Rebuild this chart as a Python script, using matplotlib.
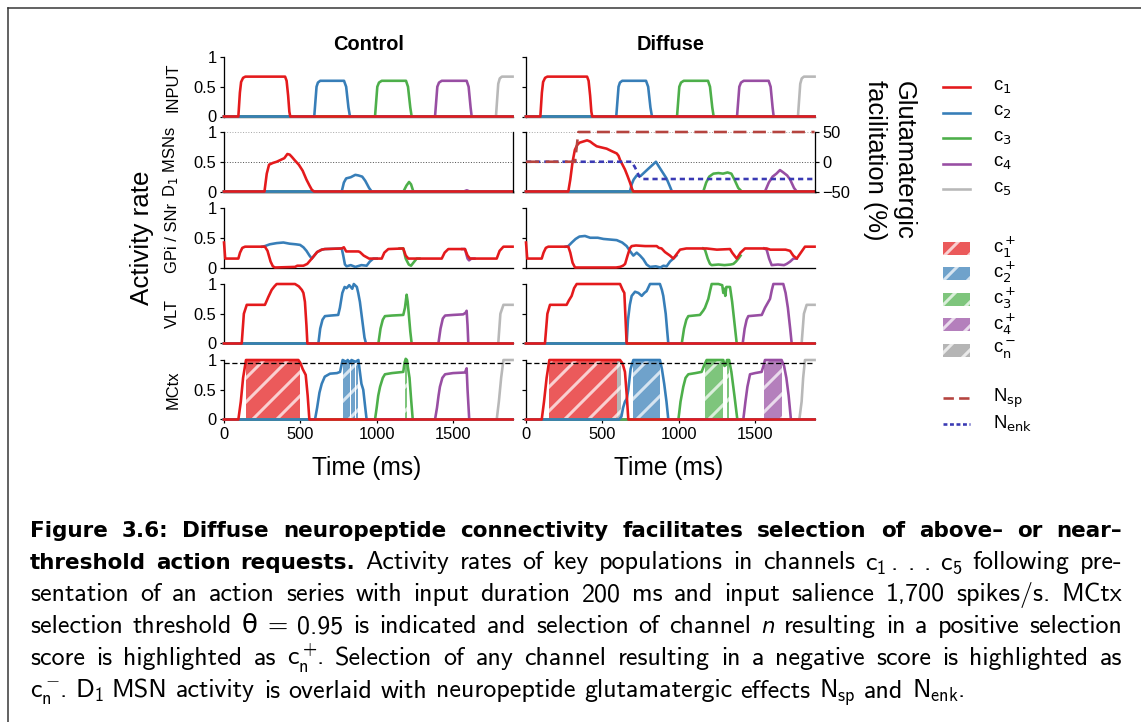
import numpy as np
import matplotlib
matplotlib.use('Agg')
import matplotlib.pyplot as plt
from matplotlib.patches import Rectangle

plt.rcParams['font.family'] = ['Liberation Sans', 'DejaVu Sans']
plt.rcParams['mathtext.rm'] = 'cmss10'
plt.rcParams['mathtext.it'] = 'DejaVu Sans:italic'
plt.rcParams['hatch.linewidth'] = 3.0

DPI = 72
W, H = 1141, 722
T_END = 1890

channels = ['c1', 'c2', 'c3', 'c4', 'c5']
colours = {'c1': '#e41a1c', 'c2': '#377eb8', 'c3': '#4daf4a',
           'c4': '#984ea3', 'c5': '#b8b8b8'}
neg_colour = '#999999'
nsp_colour = '#b5443f'
nenk_colour = '#3a3ab4'
row_labels = ['INPUT', 'D$_1$ MSNs', 'GPi / SNr', 'VLT', 'MCtx']

# ---- activity traces, (time ms, rate) breakpoints ----
input_rates = {
    'c1': [(0, 0), (94, 0), (104, 0.4), (112, 0.58), (125, 0.65), (140, 0.67), (400, 0.67),
           (410, 0.6), (420, 0.35), (428, 0.08), (434, 0), (T_END, 0)],
    'c2': [(0, 0), (591, 0), (606, 0.5), (615, 0.57), (630, 0.6), (786, 0.6), (800, 0.5),
           (815, 0.15), (825, 0), (T_END, 0)],
    'c3': [(0, 0), (989, 0), (1004, 0.5), (1015, 0.57), (1033, 0.6), (1192, 0.6), (1205, 0.5),
           (1220, 0.15), (1229, 0), (T_END, 0)],
    'c4': [(0, 0), (1382, 0), (1397, 0.5), (1408, 0.57), (1426, 0.6), (1589, 0.6), (1602, 0.5),
           (1615, 0.15), (1622, 0), (T_END, 0)],
    'c5': [(0, 0), (1781, 0), (1796, 0.55), (1806, 0.64), (1820, 0.67), (T_END, 0.67)],
}

ctrl_d1 = {
    'c1': [(0, 0), (265, 0), (280, 0.3), (295, 0.45), (320, 0.48), (345, 0.5), (370, 0.53),
           (395, 0.56), (415, 0.63), (430, 0.62), (445, 0.58), (465, 0.52), (490, 0.45),
           (515, 0.35), (540, 0.2), (560, 0.1), (575, 0.03), (590, 0), (T_END, 0)],
    'c2': [(0, 0), (771, 0), (785, 0.15), (800, 0.22), (830, 0.24), (860, 0.28), (880, 0.27),
           (905, 0.25), (925, 0.18), (950, 0.06), (967, 0), (T_END, 0)],
    'c3': [(0, 0), (1175, 0), (1195, 0.1), (1212, 0.16), (1225, 0.12), (1240, 0), (T_END, 0)],
    'c4': [(0, 0), (1570, 0), (1590, 0.02), (1610, 0), (T_END, 0)],
    'c5': [(0, 0), (T_END, 0)],
}
diff_d1 = {
    'c1': [(0, 0), (277, 0), (290, 0.2), (305, 0.5), (320, 0.7), (335, 0.78), (350, 0.82),
           (375, 0.84), (400, 0.86), (420, 0.84), (440, 0.8), (463, 0.76), (495, 0.74),
           (528, 0.72), (560, 0.68), (594, 0.64), (606, 0.6), (616, 0.53), (632, 0.45),
           (648, 0.37), (665, 0.26), (681, 0.15), (695, 0.04), (703, 0), (T_END, 0)],
    'c2': [(0, 0), (681, 0), (692, 0.12), (705, 0.2), (725, 0.27), (750, 0.26), (775, 0.32),
           (800, 0.38), (830, 0.45), (851, 0.5), (870, 0.42), (895, 0.32), (920, 0.22),
           (940, 0.1), (956, 0), (T_END, 0)],
    'c3': [(0, 0), (1161, 0), (1180, 0.15), (1200, 0.25), (1227, 0.3), (1260, 0.31),
           (1290, 0.3), (1320, 0.32), (1345, 0.3), (1365, 0.2), (1390, 0.06), (1413, 0), (T_END, 0)],
    'c4': [(0, 0), (1565, 0), (1590, 0.15), (1615, 0.25), (1640, 0.3), (1663, 0.36),
           (1685, 0.32), (1710, 0.27), (1730, 0.2), (1755, 0.06), (1773, 0), (T_END, 0)],
    'c5': [(0, 0), (T_END, 0)],
}

# glutamatergic facilitation (%) in the diffuse case
nsp_t = [0, 321, 343, T_END]
nsp_v = [0, 0, 50, 50]
nenk_t = [0, 692, 715, 740, 758, T_END]
nenk_v = [0, 0, -10, -24, -29, -29]

ctrl_gpi = {
    'c1': [(0, 0.42), (8, 0.15), (94, 0.15), (105, 0.25), (120, 0.33), (138, 0.35), (268, 0.35),
           (285, 0.28), (305, 0.1), (320, 0.02), (334, 0), (465, 0.01), (480, 0.03), (520, 0.03),
           (545, 0.06), (575, 0.15), (610, 0.26), (640, 0.3), (660, 0.31), (771, 0.32),
           (785, 0.34), (800, 0.27), (880, 0.27), (890, 0.26), (915, 0.2), (950, 0.15),
           (1033, 0.15), (1050, 0.25), (1076, 0.31), (1174, 0.32), (1190, 0.2), (1207, 0.15),
           (1426, 0.15), (1445, 0.25), (1469, 0.31), (1578, 0.31), (1595, 0.2), (1611, 0.15),
           (1786, 0.15), (1805, 0.28), (1830, 0.35), (T_END, 0.35)],
    'c2': [(250, 0.35), (268, 0.36), (300, 0.39), (345, 0.41), (389, 0.42), (430, 0.4),
           (470, 0.39), (498, 0.38), (520, 0.34), (540, 0.28), (560, 0.2), (575, 0.15),
           (610, 0.26), (640, 0.3), (660, 0.31), (771, 0.32), (781, 0.2), (792, 0.05),
           (803, 0.02), (830, 0.04), (860, 0.01), (900, 0.04), (934, 0.03), (955, 0.1),
           (978, 0.15), (1000, 0.15)],
    'c3': [(1150, 0.32), (1174, 0.32), (1190, 0.15), (1210, 0.05), (1225, 0.03), (1240, 0.08),
           (1262, 0.15), (1280, 0.15)],
    'c4': [(1560, 0.31), (1578, 0.31), (1595, 0.15), (1605, 0.12), (1620, 0.15), (1640, 0.15)],
}
diff_gpi = {
    'c1': [(0, 0.42), (8, 0.15), (103, 0.15), (115, 0.25), (130, 0.33), (146, 0.35), (277, 0.35),
           (290, 0.25), (305, 0.08), (321, 0), (590, 0), (616, 0.01), (635, 0.03), (649, 0.06),
           (665, 0.2), (680, 0.32), (692, 0.36), (720, 0.37), (780, 0.36), (856, 0.36),
           (870, 0.33), (888, 0.32), (910, 0.26), (943, 0.2), (965, 0.15), (985, 0.22),
           (1009, 0.3), (1050, 0.32), (1183, 0.32), (1250, 0.3), (1336, 0.31), (1350, 0.25),
           (1380, 0.15), (1405, 0.25), (1434, 0.32), (1576, 0.32), (1600, 0.3), (1700, 0.3),
           (1729, 0.28), (1750, 0.2), (1773, 0.15), (1800, 0.25), (1827, 0.35), (T_END, 0.35)],
    'c2': [(260, 0.35), (277, 0.36), (300, 0.42), (325, 0.48), (350, 0.52), (386, 0.53),
           (420, 0.5), (470, 0.5), (507, 0.48), (550, 0.47), (594, 0.46), (630, 0.42),
           (659, 0.36), (680, 0.28), (703, 0.2), (725, 0.25), (747, 0.2), (768, 0.14),
           (790, 0.05), (812, 0.01), (850, 0.02), (880, 0.0), (900, 0.03), (921, 0.02),
           (943, 0.1), (965, 0.15), (985, 0.2)],
    'c3': [(1160, 0.32), (1172, 0.3), (1190, 0.15), (1205, 0.06), (1216, 0.04), (1260, 0.05),
           (1300, 0.04), (1340, 0.05), (1358, 0.06), (1375, 0.1), (1391, 0.15), (1405, 0.2)],
    'c4': [(1560, 0.32), (1576, 0.3), (1592, 0.15), (1609, 0.04), (1650, 0.05), (1690, 0.04),
           (1707, 0.06), (1730, 0.1), (1751, 0.15), (1773, 0.15)],
}

ctrl_vlt = {
    'c1': [(0, 0), (116, 0), (130, 0.5), (149, 0.65), (268, 0.65), (280, 0.72), (290, 0.78),
           (312, 0.9), (330, 0.96), (345, 1), (465, 1), (490, 0.96), (510, 0.9), (520, 0.85),
           (530, 0.7), (540, 0.3), (546, 0), (T_END, 0)],
    'c2': [(0, 0), (618, 0), (630, 0.25), (645, 0.4), (661, 0.46), (700, 0.47), (748, 0.48),
           (759, 0.6), (775, 0.85), (790, 0.95), (803, 0.93), (820, 0.98), (840, 0.92),
           (850, 1), (870, 0.95), (879, 0.85), (890, 0.7), (905, 0.4), (920, 0.1), (930, 0), (T_END, 0)],
    'c3': [(0, 0), (1011, 0), (1025, 0.25), (1040, 0.4), (1054, 0.46), (1100, 0.47),
           (1174, 0.48), (1185, 0.6), (1196, 0.82), (1203, 0.7), (1210, 0.5), (1220, 0.2),
           (1229, 0), (T_END, 0)],
    'c4': [(0, 0), (1404, 0), (1418, 0.25), (1433, 0.42), (1448, 0.47), (1500, 0.48),
           (1567, 0.49), (1583, 0.52), (1589, 0.55), (1595, 0.3), (1600, 0), (T_END, 0)],
    'c5': [(0, 0), (1796, 0), (1810, 0.5), (1830, 0.65), (T_END, 0.65)],
}
diff_vlt = {
    'c1': [(0, 0), (124, 0), (140, 0.5), (157, 0.65), (266, 0.65), (280, 0.72), (299, 0.8),
           (315, 0.93), (332, 1), (616, 1), (633, 0.9), (644, 0.85), (652, 0.4), (659, 0), (T_END, 0)],
    'c2': [(0, 0), (659, 0), (668, 0.4), (680, 0.65), (692, 0.8), (714, 0.87), (736, 0.85),
           (758, 0.8), (775, 0.85), (790, 0.88), (812, 1), (877, 1), (890, 0.9), (899, 0.8),
           (915, 0.5), (925, 0.2), (932, 0), (T_END, 0)],
    'c3': [(0, 0), (1020, 0), (1035, 0.25), (1050, 0.4), (1063, 0.46), (1100, 0.47),
           (1139, 0.48), (1160, 0.55), (1172, 0.6), (1194, 0.75), (1205, 0.88), (1216, 1),
           (1260, 1), (1285, 0.98), (1292, 0.85), (1300, 0.92), (1305, 0.8), (1312, 0.95),
           (1336, 0.95), (1350, 0.7), (1365, 0.35), (1380, 0), (T_END, 0)],
    'c4': [(0, 0), (1419, 0), (1432, 0.25), (1445, 0.4), (1456, 0.46), (1500, 0.47),
           (1544, 0.48), (1565, 0.6), (1598, 0.75), (1610, 0.9), (1620, 1), (1685, 1),
           (1700, 0.85), (1715, 0.6), (1730, 0.25), (1740, 0), (T_END, 0)],
    'c5': [(0, 0), (1805, 0), (1820, 0.5), (1838, 0.65), (T_END, 0.65)],
}

ctrl_mctx = {
    'c1': [(0, 0), (94, 0), (110, 0.3), (125, 0.7), (144, 1), (487, 1), (500, 0.95),
           (515, 0.85), (535, 0.75), (548, 0.4), (559, 0), (T_END, 0)],
    'c2': [(0, 0), (596, 0), (610, 0.2), (625, 0.45), (640, 0.6), (660, 0.72), (694, 0.77),
           (740, 0.78), (760, 0.8), (770, 0.92), (777, 1), (800, 0.97), (810, 1), (825, 0.95),
           (835, 1), (860, 0.97), (880, 1), (890, 0.8), (900, 0.6), (912, 0.5), (925, 0.2),
           (934, 0), (T_END, 0)],
    'c3': [(0, 0), (989, 0), (1000, 0.2), (1010, 0.4), (1022, 0.55), (1040, 0.7), (1054, 0.76),
           (1100, 0.78), (1174, 0.8), (1182, 0.95), (1190, 1.02), (1198, 1), (1203, 0.9),
           (1215, 0.7), (1225, 0.35), (1236, 0), (T_END, 0)],
    'c4': [(0, 0), (1382, 0), (1395, 0.2), (1405, 0.4), (1414, 0.55), (1430, 0.7), (1448, 0.76),
           (1500, 0.78), (1578, 0.79), (1589, 0.86), (1595, 0.5), (1606, 0), (T_END, 0)],
    'c5': [(0, 0), (1786, 0), (1800, 0.3), (1815, 0.7), (1830, 1), (T_END, 1)],
}
diff_mctx = {
    'c1': [(0, 0), (103, 0), (118, 0.3), (135, 0.7), (153, 1), (616, 1), (630, 0.95),
           (637, 0.9), (648, 0.8), (660, 0.4), (670, 0), (T_END, 0)],
    'c2': [(0, 0), (610, 0), (625, 0.05), (636, 0.2), (648, 0.3), (660, 0.35), (670, 0.5),
           (685, 0.85), (703, 1), (877, 1), (890, 0.85), (905, 0.6), (920, 0.3), (932, 0), (T_END, 0)],
    'c3': [(0, 0), (998, 0), (1012, 0.3), (1030, 0.55), (1045, 0.7), (1063, 0.76), (1110, 0.78),
           (1150, 0.8), (1165, 0.9), (1183, 1), (1292, 1), (1300, 0.9), (1310, 0.92), (1316, 1),
           (1330, 1), (1345, 0.8), (1365, 0.4), (1384, 0), (T_END, 0)],
    'c4': [(0, 0), (1423, 0), (1437, 0.3), (1450, 0.55), (1467, 0.76), (1500, 0.78),
           (1543, 0.8), (1555, 0.9), (1565, 1), (1674, 1), (1690, 0.9), (1705, 0.7),
           (1720, 0.4), (1735, 0), (T_END, 0)],
    'c5': [(0, 0), (1790, 0), (1805, 0.3), (1815, 0.7), (1827, 1), (T_END, 1)],
}

# MCtx above-threshold windows (ms); 'neg' = selection with negative score
ctrl_selected = {'c1': [(144, 498)], 'c2': [(778, 828), (834, 858), (863, 880)],
                 'c3': [(1186, 1198)]}
diff_selected = {'c1': [(153, 598)], 'c2': [(700, 880)], 'c3': [(1172, 1288), (1314, 1327)],
                 'c4': [(1561, 1679)], 'neg': [(598, 622)]}
threshold = 0.95

caption_lines = [
    ('Figure 3.6:  Diffuse neuropeptide connectivity facilitates selection of above\u2013 or near\u2013', ''),
    ('threshold action requests.',
     r'Activity rates of key populations in channels c$_1\,.\,.\,.\,$c$_5$ following pre-'),
    ('', 'sentation of an action series with input duration 200 ms and input salience 1,700 spikes/s. MCtx'),
    ('', 'selection threshold \u03b8 = 0.95 is indicated and selection of channel *n resulting in a positive selection'),
    ('', r'score is highlighted as c$_\mathrm{n}^+\!$. Selection of any channel resulting in a negative score is highlighted as'),
    ('', r'c$_\mathrm{n}^-\!$. D$_1$ MSN activity is overlaid with neuropeptide glutamatergic effects N$_\mathrm{sp}$ and N$_\mathrm{enk}$.'),
]

# ---- layout (pixels) ----
fig = plt.figure(figsize=(W / DPI, H / DPI), dpi=DPI)
col_left = [224, 526]
ax_w = 288.6
row_top = [57, 132, 208, 284, 360]
ax_h = 59.5
FS = 16.5
LW = 2.6


def px_axes(left, top, width, height):
    return fig.add_axes([left / W, 1 - (top + height) / H, width / W, height / H])


def draw_trace(ax, pts, ch):
    t, v = np.array(pts).T
    z = 2 + (len(channels) - channels.index(ch))
    ax.plot(t, v, color=colours[ch], lw=LW, zorder=z, clip_on=False,
            solid_joinstyle='round')


conditions = [('Control', [input_rates, ctrl_d1, ctrl_gpi, ctrl_vlt, ctrl_mctx], ctrl_selected),
              ('Diffuse', [input_rates, diff_d1, diff_gpi, diff_vlt, diff_mctx], diff_selected)]

for ci, (title, rows, selected) in enumerate(conditions):
    for ri, data in enumerate(rows):
        ax = px_axes(col_left[ci], row_top[ri], ax_w, ax_h)
        ax.set_xlim(0, T_END)
        ax.set_ylim(0, 1)
        for s in ['top', 'right']:
            ax.spines[s].set_visible(False)
        for s in ['left', 'bottom']:
            ax.spines[s].set_linewidth(1.3)
        ax.tick_params(labelsize=FS, width=1.2, length=4)
        if ci == 0:
            ax.set_yticks([0, 0.5, 1], ['0', '0.5', '1'])
            ax.set_ylabel(row_labels[ri], fontsize=FS)
            ax.yaxis.set_label_coords(-0.152, 0.5)
        else:
            ax.set_yticks([0, 0.5, 1], [])
        if ri == 4:
            ax.set_xticks([0, 500, 1000, 1500], ['0', '500', '1000', '1500'])
        else:
            ax.set_xticks([])

        for ch in channels:
            if ch in data:
                draw_trace(ax, data[ch], ch)

        if ri == 1:
            ax.axhline(1, color='#aaaaaa', ls=':', lw=1, zorder=1)
            ax.axhline(0.5, color='#555555', ls=':', lw=1, zorder=1)
            tw = ax.twinx()
            tw.set_ylim(-50, 50)
            tw.set_xlim(0, T_END)
            for s in ['top', 'left', 'bottom']:
                tw.spines[s].set_visible(False)
            tw.spines['right'].set_linewidth(1.3)
            if ci == 1:
                tw.set_yticks([-50, 0, 50])
                tw.tick_params(labelsize=FS, width=1.2, length=4)
                tw.plot(nenk_t, nenk_v, color=nenk_colour, lw=LW, ls=(0, (2, 1.5)),
                        zorder=8, clip_on=False)
                tw.plot(nsp_t, nsp_v, color=nsp_colour, lw=LW, ls=(0, (5, 2.5)),
                        zorder=9, clip_on=False)
            else:
                tw.set_yticks([])

        if ri == 4:
            ax.axhline(threshold, color='black', ls=(0, (4, 2)), lw=1.3, zorder=12)
            for key, spans in selected.items():
                col = neg_colour if key == 'neg' else colours[key]
                for a, b in spans:
                    ax.fill_between([a, b], 0, 1, facecolor=col, edgecolor='white',
                                    hatch='/', alpha=0.72, lw=0, zorder=1.5)

    cx = col_left[ci] + ax_w * 0.5
    fig.text(cx / W, 1 - 44 / H, title, fontsize=20, fontweight='bold', ha='center', va='center')
    fig.text((cx - 2) / W, 1 - 468 / H, 'Time (ms)', fontsize=24.5, ha='center', va='center')

fig.text(142 / W, 1 - 238 / H, 'Activity rate', fontsize=26, rotation=90, ha='center', va='center')
fig.text(889 / W, 1 - 160 / H, 'Glutamatergic\nfacilitation (%)', fontsize=25.5, rotation=270,
         ha='center', va='center', multialignment='center', linespacing=1.25)

# overlay in pixel units for the key and the page frame
ov = fig.add_axes([0, 0, 1, 1])
ov.set_xlim(0, W)
ov.set_ylim(H, 0)
ov.axis('off')
ov.patch.set_alpha(0)

key_x0, key_x1, key_tx = 943, 970, 993
pitch = 25.6
line_keys = [(colours[c], 'c$_%d$' % (i + 1)) for i, c in enumerate(channels)]
patch_keys = [(colours[c], 'c$_%d^+$' % (i + 1)) for i, c in enumerate(channels[:4])]
patch_keys.append((neg_colour, 'c$_\\mathrm{n}^-$'))
pep_keys = [(nsp_colour, (0, (4, 2)), 'N$_\\mathrm{sp}$'),
            (nenk_colour, (0, (1.5, 1)), 'N$_\\mathrm{enk}$')]

for i, (col, lab) in enumerate(line_keys):
    y = 87 + i * pitch
    ov.plot([key_x0, key_x1], [y, y], color=col, lw=LW)
    ov.text(key_tx, y, lab, fontsize=18.5, va='center')
for i, (col, lab) in enumerate(patch_keys):
    y = 248 + i * pitch
    ov.add_patch(Rectangle((key_x0, y - 6.5), key_x1 - key_x0, 13, facecolor=col,
                           edgecolor='white', hatch='/', alpha=0.72, lw=0))
    ov.text(key_tx, y - 1, lab, fontsize=18.5, va='center')
for i, (col, ls, lab) in enumerate(pep_keys):
    y = 398 + i * pitch
    ov.plot([key_x0, key_x1], [y, y], color=col, lw=LW, ls=ls)
    ov.text(key_tx, y, lab, fontsize=18.5, va='center')

ov.plot([8, W], [8, 8], color='#333333', lw=1.5)
ov.plot([8, 8], [8, H], color='#333333', lw=1.5)

# justified caption; words starting with * are set in italics
renderer = fig.canvas.get_renderer()
BFS = 21.5
RFS = 26
x0, x1 = 30, 1122
base_y = 537
line_gap = 32.1
for li, (bold, reg) in enumerate(caption_lines):
    words = []
    y = base_y + li * line_gap
    for w in bold.split():
        words.append(ov.text(0, y, w, fontsize=BFS, family=['DejaVu Sans'],
                             fontweight='bold', va='baseline'))
    for w in reg.split():
        if w.startswith('*'):
            words.append(ov.text(0, y, w[1:], fontsize=RFS * 0.82, family=['DejaVu Sans'],
                                 style='italic', va='baseline'))
        else:
            words.append(ov.text(0, y, w, fontsize=RFS, family=['cmss10', 'DejaVu Sans'],
                                 math_fontfamily='custom', va='baseline'))
    widths = [t.get_window_extent(renderer).width for t in words]
    if li == len(caption_lines) - 1:
        gap = 8.5
    else:
        gap = (x1 - x0 - sum(widths)) / (len(words) - 1)
    x = x0
    for t, wd in zip(words, widths):
        t.set_x(x)
        x += wd + gap

fig.savefig('out.png', dpi=DPI)
